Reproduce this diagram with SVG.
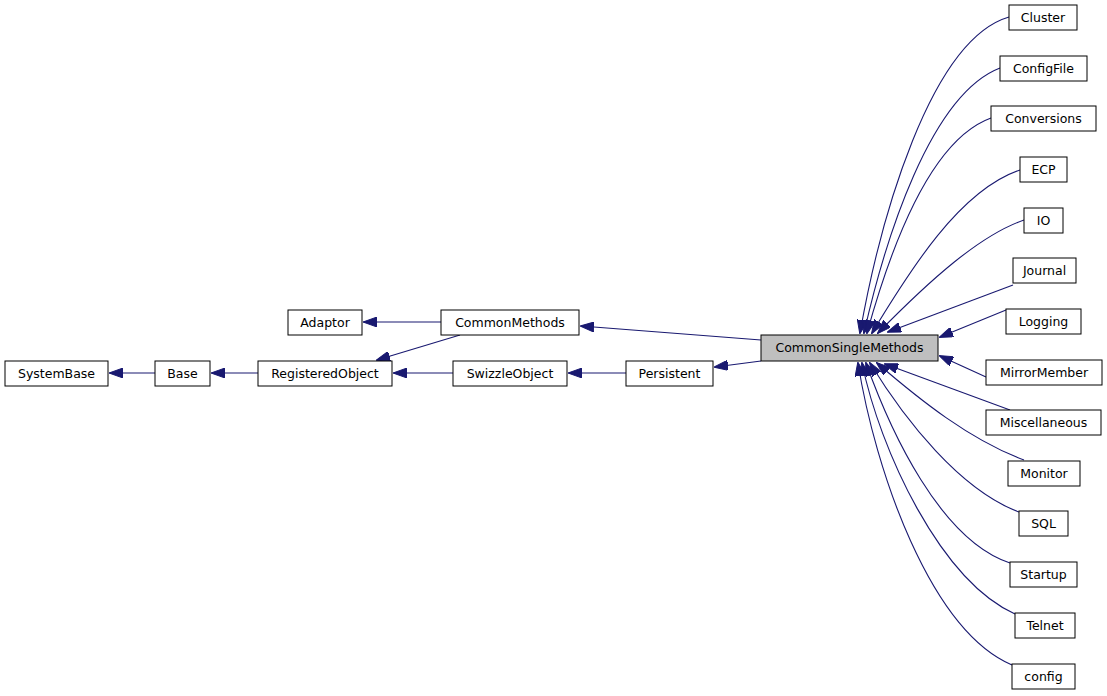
<svg xmlns="http://www.w3.org/2000/svg" width="1107" height="696" viewBox="0 0 1107 696">
<style>
.n rect{fill:#fff;stroke:#000;stroke-width:1}
.n text{font-family:"DejaVu Sans",sans-serif;font-size:12.5px;text-anchor:middle;fill:#000}
#e path{fill:none;stroke:#191970;stroke-width:1.1;marker-end:url(#a)}
</style>
<defs><marker id="a" markerWidth="14" markerHeight="10" refX="13" refY="5" orient="auto" markerUnits="userSpaceOnUse"><path d="M0,0 L14,5 L0,10 Z" fill="#191970" stroke="#191970"/></marker></defs>
<rect width="1107" height="696" fill="#fff"/>
<g id="e">
<path d="M155,373 H110"/>
<path d="M258,373 H212"/>
<path d="M441,322 H364"/>
<path d="M460,335 L377,360"/>
<path d="M453,373 H394"/>
<path d="M626,373 H569"/>
<path d="M761,340 L581,326"/>
<path d="M761,361 L715,367"/>
<path d="M1009,17 C930,40 880,220 860,333"/>
<path d="M1000,68 C930,95 885,240 864,333"/>
<path d="M991,118 C930,140 890,250 867,333"/>
<path d="M1020,170 C960,190 910,270 872,333"/>
<path d="M1024,220 C980,235 930,280 878,333"/>
<path d="M1013,285 L888,332"/>
<path d="M1006,310 L940,337"/>
<path d="M986,377 L940,356"/>
<path d="M1010,410 L885,364"/>
<path d="M1024,460 C970,440 920,400 877,363"/>
<path d="M1019,512 C960,490 905,420 870,363"/>
<path d="M1010,563 C940,540 890,430 866,363"/>
<path d="M1015,614 C940,580 880,450 862,363"/>
<path d="M1012,665 C930,630 875,470 858,363"/>
</g>
<g id="SystemBase" class="n"><rect x="5" y="361" width="103" height="25"/><text x="56.5" y="378">SystemBase</text></g>
<g id="Base" class="n"><rect x="155" y="361" width="55" height="25"/><text x="182.5" y="378">Base</text></g>
<g id="RegisteredObject" class="n"><rect x="258" y="361" width="134" height="25"/><text x="325" y="378">RegisteredObject</text></g>
<g id="Adaptor" class="n"><rect x="288" y="310" width="74" height="25"/><text x="325" y="327">Adaptor</text></g>
<g id="CommonMethods" class="n"><rect x="441" y="310" width="138" height="25"/><text x="510" y="327">CommonMethods</text></g>
<g id="SwizzleObject" class="n"><rect x="453" y="361" width="114" height="25"/><text x="510" y="378">SwizzleObject</text></g>
<g id="Persistent" class="n"><rect x="626" y="361" width="87" height="25"/><text x="669.5" y="378">Persistent</text></g>
<g id="CommonSingleMethods" class="n"><rect x="761" y="335" width="177" height="26" style="fill:#bfbfbf"/><text x="849.5" y="352">CommonSingleMethods</text></g>
<g id="Cluster" class="n"><rect x="1009" y="5" width="68" height="25"/><text x="1043" y="22">Cluster</text></g>
<g id="ConfigFile" class="n"><rect x="1000" y="56" width="87" height="25"/><text x="1043.5" y="73">ConfigFile</text></g>
<g id="Conversions" class="n"><rect x="991" y="106" width="105" height="25"/><text x="1043.5" y="123">Conversions</text></g>
<g id="ECP" class="n"><rect x="1020" y="157" width="47" height="25"/><text x="1043.5" y="174">ECP</text></g>
<g id="IO" class="n"><rect x="1024" y="208" width="39" height="25"/><text x="1043.5" y="225">IO</text></g>
<g id="Journal" class="n"><rect x="1013" y="258" width="63" height="25"/><text x="1044.5" y="275">Journal</text></g>
<g id="Logging" class="n"><rect x="1006" y="309" width="75" height="25"/><text x="1043.5" y="326">Logging</text></g>
<g id="MirrorMember" class="n"><rect x="986" y="360" width="116" height="25"/><text x="1044" y="377">MirrorMember</text></g>
<g id="Miscellaneous" class="n"><rect x="986" y="410" width="115" height="25"/><text x="1043.5" y="427">Miscellaneous</text></g>
<g id="Monitor" class="n"><rect x="1008" y="461" width="72" height="25"/><text x="1044" y="478">Monitor</text></g>
<g id="SQL" class="n"><rect x="1019" y="511" width="49" height="25"/><text x="1043.5" y="528">SQL</text></g>
<g id="Startup" class="n"><rect x="1010" y="562" width="67" height="25"/><text x="1043.5" y="579">Startup</text></g>
<g id="Telnet" class="n"><rect x="1015" y="613" width="60" height="25"/><text x="1045" y="630">Telnet</text></g>
<g id="config" class="n"><rect x="1012" y="664" width="63" height="25"/><text x="1043.5" y="681">config</text></g>
</svg>
